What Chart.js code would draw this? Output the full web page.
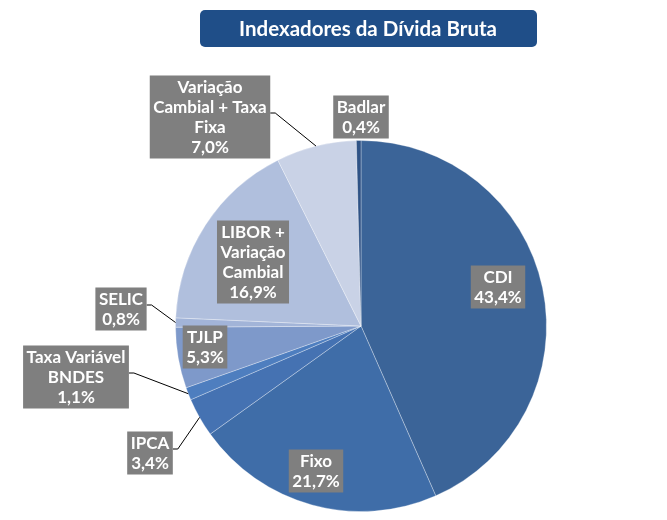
<!DOCTYPE html>
<html>
<head>
<meta charset="utf-8">
<script src="https://cdn.jsdelivr.net/npm/chart.js@4"></script>
<style>
  html, body { margin: 0; padding: 0; background: #fff; }
  #wrap { width: 667px; height: 520px; position: relative; }
</style>
</head>
<body>
<div id="wrap"><canvas id="pieChart" width="667" height="520"></canvas></div>
<script>
// Indexadores da Dívida Bruta
const categories = ["CDI", "Fixo", "IPCA", "Taxa Variável BNDES", "TJLP", "SELIC",
    "LIBOR + Variação Cambial", "Variação Cambial + Taxa Fixa", "Badlar"];
const shares = [43.4, 21.7, 3.4, 1.1, 5.3, 0.8, 16.9, 7.0, 0.4];
const labelLines = [
    ["CDI"], ["Fixo"], ["IPCA"], ["Taxa Variável", "BNDES"], ["TJLP"], ["SELIC"],
    ["LIBOR +", "Variação", "Cambial"], ["Variação", "Cambial + Taxa", "Fixa"], ["Badlar"]
];

const sliceColors = ["#3b6498", "#3f6da8", "#4572b2", "#4e7ebf", "#7e99ca",
    "#a2b4d8", "#b0bfdd", "#c9d2e6", "#2f5386"];
// label box centre, offset from the pie centre (px), and whether a leader line is drawn
const labelLayout = [
    { dx: 137, dy: -39, leader: false },
    { dx: -45, dy: 145, leader: false },
    { dx: -211, dy: 127, leader: true },
    { dx: -285, dy: 51, leader: true },
    { dx: -156, dy: 21, leader: false },
    { dx: -240, dy: -17, leader: true },
    { dx: -108, dy: -64, leader: false },
    { dx: -151, dy: -209, leader: true },
    { dx: 0, dy: -209, leader: false }
];

const fmt = v => v.toFixed(1).replace(".", ",") + "%";

const titleBox = {
    id: "titleBox",
    afterDraw(chart) {
        const ctx = chart.ctx;
        ctx.save();
        ctx.fillStyle = "#1f4e88";
        ctx.beginPath();
        ctx.roundRect(200, 10, 337, 37, 5);
        ctx.fill();
        ctx.fillStyle = "#fff";
        ctx.font = "bold 20.5px Lato, 'DejaVu Sans', sans-serif";
        ctx.textAlign = "center";
        ctx.textBaseline = "middle";
        ctx.fillText("Indexadores da Dívida Bruta", 368, 29);
        ctx.restore();
    }
};

const boxLabels = {
    id: "boxLabels",
    afterDatasetsDraw(chart) {
        const ctx = chart.ctx;
        const arcs = chart.getDatasetMeta(0).data;
        ctx.save();
        ctx.font = "bold 17px Lato, 'DejaVu Sans', sans-serif";
        ctx.textAlign = "center";
        ctx.textBaseline = "middle";
        arcs.forEach((arc, i) => {
            const lines = labelLines[i].concat([fmt(shares[i])]);
            const lay = labelLayout[i];
            const cx = arc.x + lay.dx, cy = arc.y + lay.dy;
            const w = Math.max(...lines.map(l => ctx.measureText(l).width)) + 7;
            const h = lines.length * 20 + 3;
            const left = cx - w / 2, top = cy - h / 2;
            if (lay.leader) {
                const mid = (arc.startAngle + arc.endAngle) / 2;
                const ex = arc.x + Math.cos(mid) * arc.outerRadius;
                const ey = arc.y + Math.sin(mid) * arc.outerRadius;
                const sx = left + w, sy = cy - 4;
                ctx.strokeStyle = "#000";
                ctx.lineWidth = 1;
                ctx.beginPath();
                ctx.moveTo(sx, sy);
                ctx.lineTo(sx + 5, sy);
                ctx.lineTo(ex, ey);
                ctx.stroke();
            }
            ctx.fillStyle = "#7f7f7f";
            ctx.fillRect(left, top, w, h);
            ctx.fillStyle = "#fff";
            lines.forEach((l, k) => {
                ctx.fillText(l, cx, top + 2 + 10 + k * 20);
            });
        });
        ctx.restore();
    }
};

new Chart(document.getElementById("pieChart"), {
    type: "pie",
    data: {
        labels: categories,
        datasets: [{
            data: shares,
            backgroundColor: sliceColors,
            borderColor: "rgba(255,255,255,0.3)",
            borderWidth: 1
        }]
    },
    options: {
        responsive: false,
        animation: false,
        layout: { padding: { top: 140, bottom: 8, left: 175, right: 120 } },
        plugins: {
            legend: { display: false },
            tooltip: { enabled: false }
        }
    },
    plugins: [boxLabels, titleBox]
});
</script>
</body>
</html>
